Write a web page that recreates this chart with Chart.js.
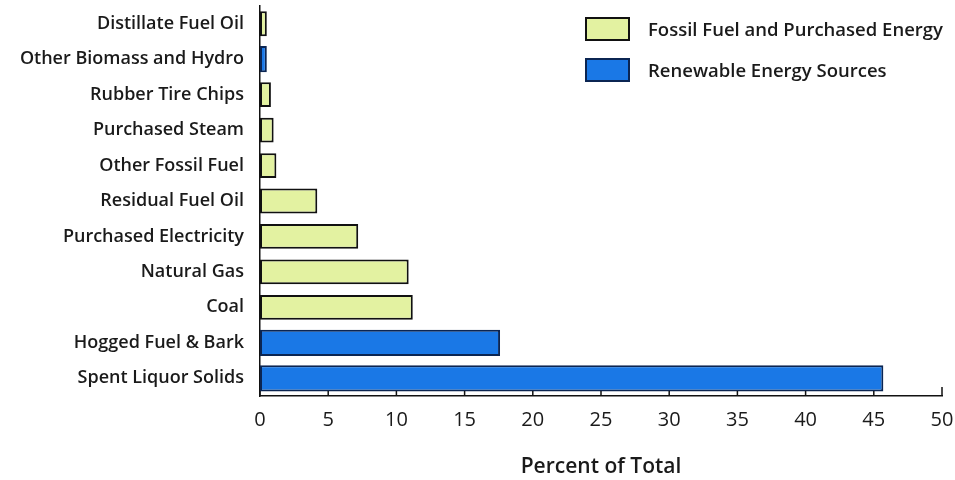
<!DOCTYPE html>
<html>
<head>
<meta charset="utf-8">
<script src="https://cdn.jsdelivr.net/npm/chart.js@4.4.1/dist/chart.umd.min.js"></script>
<style>
  html, body { margin: 0; padding: 0; background: #fff; }
  #wrap { position: relative; width: 955px; height: 480px; }
  #legend { position: absolute; left: 585px; top: 17px; font-family: "Open Sans", sans-serif;
            font-size: 18.5px; font-weight: 600; color: #1a1a1a; }
  #legend .item { display: flex; align-items: center; height: 23px; margin-bottom: 18px; }
  #legend .box { width: 41px; height: 20px; border: 2px solid #111; margin-right: 18px; }
</style>
</head>
<body>
<div id="wrap">
  <canvas id="chart" width="955" height="480"></canvas>
  <div id="legend"></div>
</div>
<script>
/* Horizontal bar chart: share of energy by source, fossil vs renewable. */

const categories = [
  "Distillate Fuel Oil",
  "Other Biomass and Hydro",
  "Rubber Tire Chips",
  "Purchased Steam",
  "Other Fossil Fuel",
  "Residual Fuel Oil",
  "Purchased Electricity",
  "Natural Gas",
  "Coal",
  "Hogged Fuel & Bark",
  "Spent Liquor Solids",
];

// null where the category belongs to the other group
const fossilValues = [0.5, null, 0.8, 1.0, 1.2, 4.2, 7.2, 10.9, 11.2, null, null];
const renewableValues = [null, 0.5, null, null, null, null, null, null, null, 17.6, 45.7];

const xTicks = [0, 5, 10, 15, 20, 25, 30, 35, 40, 45, 50];

const colors = {
  fossil: "#e3f2a1",
  fossilBorder: "#111111",
  renewable: "#1a78e6",
  renewableBorder: "#0b2552",
  ink: "#1a1a1a",
};

const font = "'Open Sans', sans-serif";

// ticks drawn upward from the x axis, like the original
const innerTicks = {
  id: "innerTicks",
  afterDraw(chart) {
    const { ctx, chartArea } = chart;
    const x = chart.scales.x;
    ctx.save();
    ctx.strokeStyle = "#111";
    ctx.lineWidth = 1.5;
    xTicks.forEach((v) => {
      const px = x.getPixelForValue(v);
      ctx.beginPath();
      ctx.moveTo(px, chartArea.bottom);
      ctx.lineTo(px, chartArea.bottom - (v === 50 ? 9 : 5));
      ctx.stroke();
    });
    ctx.restore();
  },
};

const chart = new Chart(document.getElementById("chart").getContext("2d"), {
  type: "bar",
  data: {
    labels: categories,
    datasets: [
      {
        label: "Fossil Fuel and Purchased Energy",
        data: fossilValues,
        backgroundColor: colors.fossil,
        borderColor: colors.fossilBorder,
        borderWidth: 2,
        borderSkipped: false,
        barPercentage: 0.7,
        categoryPercentage: 1,
        grouped: false,
      },
      {
        label: "Renewable Energy Sources",
        data: renewableValues,
        backgroundColor: colors.renewable,
        borderColor: colors.renewableBorder,
        borderWidth: 2,
        borderSkipped: false,
        barPercentage: 0.74,
        categoryPercentage: 1,
        grouped: false,
      },
    ],
  },
  options: {
    indexAxis: "y",
    responsive: false,
    animation: false,
    layout: { padding: { left: 0, right: 13, top: 6, bottom: 0 } },
    plugins: {
      legend: { display: false },
      tooltip: { enabled: false },
    },
    scales: {
      x: {
        min: 0,
        max: 50,
        afterBuildTicks: (s) => { s.ticks = xTicks.map((v) => ({ value: v })); },
        afterFit: (s) => { s.height = 84; s.paddingLeft = 0; s.paddingRight = 0; },
        grid: { display: false, drawTicks: false },
        border: { display: true, color: "#111", width: 1.5 },
        ticks: {
          color: colors.ink,
          font: { family: font, size: 20 },
          padding: 12,
          maxRotation: 0,
        },
        title: {
          display: true,
          text: "Percent of Total",
          color: colors.ink,
          font: { family: font, size: 21, weight: "600" },
          padding: { top: 12, bottom: 0 },
        },
      },
      y: {
        afterFit: (s) => { s.width = 260; s.paddingTop = 0; s.paddingBottom = 0; },
        grid: { display: false, drawTicks: false },
        border: { display: true, color: "#111", width: 1.5 },
        ticks: {
          color: colors.ink,
          font: { family: font, size: 18, weight: "600" },
          padding: 16,
        },
      },
    },
  },
  plugins: [innerTicks],
});

// HTML legend built from the datasets
const legend = document.getElementById("legend");
chart.data.datasets.forEach((ds) => {
  const item = document.createElement("div");
  item.className = "item";
  const box = document.createElement("span");
  box.className = "box";
  box.style.background = ds.backgroundColor;
  box.style.borderColor = ds.borderColor;
  const text = document.createElement("span");
  text.textContent = ds.label;
  item.appendChild(box);
  item.appendChild(text);
  legend.appendChild(item);
});
</script>
</body>
</html>
